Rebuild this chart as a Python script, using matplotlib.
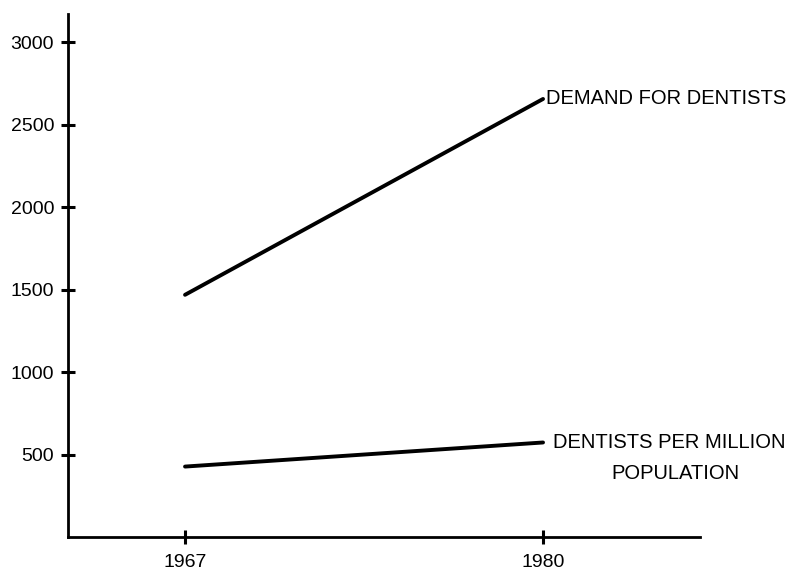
import numpy as np
import matplotlib
matplotlib.use('Agg')
import matplotlib.pyplot as plt

plt.rcParams['font.family'] = ['Liberation Sans', 'DejaVu Sans']

# data
years = [1967, 1980]
demand = [1468, 2655]
per_million = [427, 573]
yticks = [500, 1000, 1500, 2000, 2500, 3000]

fig = plt.figure(figsize=(7.98, 5.71), dpi=100)
ax = fig.add_axes([0.0852, 0.0595, 0.792, 0.916])

ax.plot(years, demand, color='black', lw=2.8, solid_capstyle='round')
ax.plot(years, per_million, color='black', lw=2.8, solid_capstyle='round')

ax.set_xlim(1962.75, 1985.7)
ax.set_ylim(0, 3170)
ax.set_xticks(years)
ax.set_yticks(yticks)
ax.tick_params(direction='inout', length=10, width=2.2, labelsize=14)
ax.tick_params(axis='y', pad=5)
ax.tick_params(axis='x', pad=7)

for s in ['top', 'right']:
    ax.spines[s].set_visible(False)
for s in ['left', 'bottom']:
    ax.spines[s].set_linewidth(2)

ax.text(1980.1, demand[1], 'DEMAND FOR DENTISTS', fontsize=14.5, va='center', ha='left')
ax.text(1980.35, per_million[1], 'DENTISTS PER MILLION', fontsize=14.5, va='center', ha='left', clip_on=False)
ax.text(1984.8, per_million[1] - 185, 'POPULATION', fontsize=14.5, va='center', ha='center', clip_on=False)

fig.savefig('out.png', dpi=100)
